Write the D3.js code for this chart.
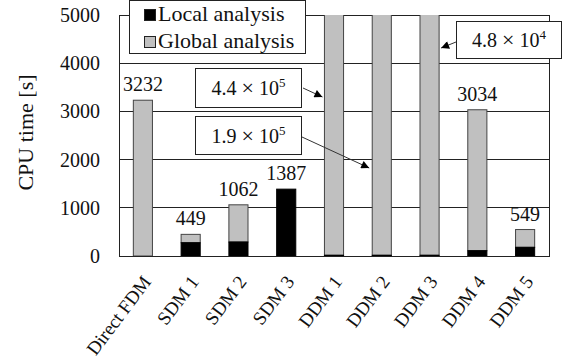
<!DOCTYPE html>
<html>
<head>
<meta charset="utf-8">
<script src="https://cdn.jsdelivr.net/npm/d3@7"></script>
<style>
  html, body { margin: 0; padding: 0; background: #fff; }
  svg { display: block; }
  text { font-family: "Liberation Serif", "Times New Roman", serif; fill: #111; }
</style>
</head>
<body>
<svg id="chart" width="565" height="360"></svg>
<script>
// CPU time per method, split into local and global analysis (seconds)
const categories = ["Direct FDM", "SDM 1", "SDM 2", "SDM 3", "DDM 1", "DDM 2", "DDM 3", "DDM 4", "DDM 5"];
const localTime  = [0, 275, 290, 1387, 15, 15, 15, 110, 180];
const totalTime  = [3232, 449, 1062, 1387, 440000, 190000, 48000, 3034, 549];
const valueLabels = ["3232", "449", "1062", "1387", null, null, null, "3034", "549"];
const yTicks = [0, 1000, 2000, 3000, 4000, 5000];
// Off-scale totals are given in callouts: mantissa, exponent, target category
const callouts = [
  { mant: "4.4", exp: "5", cat: "DDM 1" },
  { mant: "1.9", exp: "5", cat: "DDM 2" },
  { mant: "4.8", exp: "4", cat: "DDM 3" }
];

const svg = d3.select("#chart");
const m = { left: 119, right: 16, top: 15, bottom: 104 };
const W = 565, H = 360;
const plotR = W - m.right, plotB = H - m.bottom;

const x = d3.scaleBand().domain(categories).range([m.left, plotR]).paddingInner(0.6).paddingOuter(0.3);
const y = d3.scaleLinear().domain([0, 5000]).range([plotB, m.top]);

const GRAY = "#c0c0c0", EDGE = "#444";

// gridlines
svg.append("g").selectAll("line").data(yTicks).join("line")
  .attr("x1", m.left).attr("x2", plotR)
  .attr("y1", d => y(d)).attr("y2", d => y(d))
  .attr("stroke", "#222").attr("stroke-width", 1).attr("shape-rendering", "crispEdges");

// y axis labels
const yAxis = d3.axisLeft(y).tickValues(yTicks).tickSize(0).tickPadding(19).tickFormat(d3.format("d"));
svg.append("g").attr("transform", `translate(${m.left},0)`).call(yAxis)
  .call(g => g.select(".domain").remove())
  .selectAll("text").attr("font-size", 20).attr("font-family", "Liberation Serif, serif").attr("fill", "#111");

// plot frame
svg.append("rect").attr("x", m.left).attr("y", m.top).attr("width", plotR - m.left).attr("height", plotB - m.top)
  .attr("fill", "none").attr("stroke", "#222").attr("shape-rendering", "crispEdges");

// clip bars to plot area
svg.append("clipPath").attr("id", "plotclip").append("rect")
  .attr("x", m.left).attr("y", m.top).attr("width", plotR - m.left).attr("height", plotB - m.top);

const bars = svg.append("g").attr("clip-path", "url(#plotclip)");
const rows = categories.map((c, i) => ({ c, local: localTime[i], total: totalTime[i], label: valueLabels[i] }));

// global part (from local top to total)
bars.selectAll("rect.global").data(rows.filter(d => d.total > d.local)).join("rect")
  .attr("class", "global")
  .attr("x", d => x(d.c)).attr("width", x.bandwidth())
  .attr("y", d => Math.max(y(d.total), m.top - 5))
  .attr("height", d => y(d.local) - Math.max(y(d.total), m.top - 5))
  .attr("fill", GRAY).attr("stroke", EDGE).attr("stroke-width", 1);

// local part
bars.selectAll("rect.local").data(rows.filter(d => d.local > 0)).join("rect")
  .attr("class", "local")
  .attr("x", d => x(d.c)).attr("width", x.bandwidth())
  .attr("y", d => y(d.local)).attr("height", d => y(0) - y(d.local))
  .attr("fill", "#000").attr("stroke", "#000").attr("stroke-width", 1);

// value labels
svg.append("g").selectAll("text").data(rows.filter(d => d.label)).join("text")
  .attr("x", d => x(d.c) + x.bandwidth() / 2)
  .attr("y", d => y(d.total) - 9)
  .attr("text-anchor", "middle").attr("font-size", 20)
  .text(d => d.label);

// x labels, rotated
svg.append("g").selectAll("text").data(categories).join("text")
  .attr("transform", d => `translate(${x(d) + x.bandwidth() / 2 + 9},${plotB + 26}) rotate(-53)`)
  .attr("text-anchor", "end").attr("font-size", 19)
  .text(d => d);

// y title
svg.append("text")
  .attr("transform", `translate(33,${(m.top + plotB) / 2 - 3}) rotate(-90)`)
  .attr("text-anchor", "middle").attr("font-size", 22)
  .text("CPU time [s]");

// legend
const lg = svg.append("g");
lg.append("rect").attr("x", 129.5).attr("y", 0.5).attr("width", 176).attr("height", 53)
  .attr("fill", "#fff").attr("stroke", "#222");
const legendItems = [{ name: "Local analysis", fill: "#000" }, { name: "Global analysis", fill: GRAY }];
legendItems.forEach((d, i) => {
  const base = 21 + i * 27;
  lg.append("rect").attr("x", 144.5).attr("y", base - 11.5).attr("width", 11).attr("height", 11)
    .attr("fill", d.fill).attr("stroke", "#222");
  lg.append("text").attr("x", 158).attr("y", base).attr("font-size", 22).text(d.name);
});

// callouts with arrows
const defs = svg.append("defs");
defs.append("marker").attr("id", "arrow").attr("viewBox", "0 0 10 10")
  .attr("refX", 10).attr("refY", 5).attr("markerWidth", 10).attr("markerHeight", 8)
  .attr("markerUnits", "userSpaceOnUse").attr("orient", "auto")
  .append("path").attr("d", "M0,0 L10,5 L0,10 Z").attr("fill", "#000");

const boxes = [
  { x: 195.5, y: 68.5, w: 106, h: 39, from: [303, 88], to: d => [x(d) - 2, 97] },
  { x: 195.5, y: 116.5, w: 106, h: 38, from: [302, 137], to: d => [x(d) - 3, 168] },
  { x: 456.5, y: 21.5, w: 105, h: 37, from: [456, 42], to: d => [x(d) + x.bandwidth() + 2, 48] }
];
callouts.forEach((c, i) => {
  const b = boxes[i];
  const tgt = b.to(c.cat);
  svg.append("line").attr("x1", b.from[0]).attr("y1", b.from[1]).attr("x2", tgt[0]).attr("y2", tgt[1])
    .attr("stroke", "#333").attr("stroke-width", 1).attr("marker-end", "url(#arrow)");
  svg.append("rect").attr("x", b.x).attr("y", b.y).attr("width", b.w).attr("height", b.h)
    .attr("fill", "#fff").attr("stroke", "#222");
  const t = svg.append("text").attr("x", b.x + b.w / 2).attr("y", b.y + b.h / 2 + 7)
    .attr("text-anchor", "middle").attr("font-size", 20);
  t.append("tspan").text(`${c.mant} `);
  t.append("tspan").attr("font-size", 22).text("×");
  t.append("tspan").text(" 10");
  t.append("tspan").attr("font-size", 13).attr("dy", -8).text(c.exp);
});
</script>
</body>
</html>
